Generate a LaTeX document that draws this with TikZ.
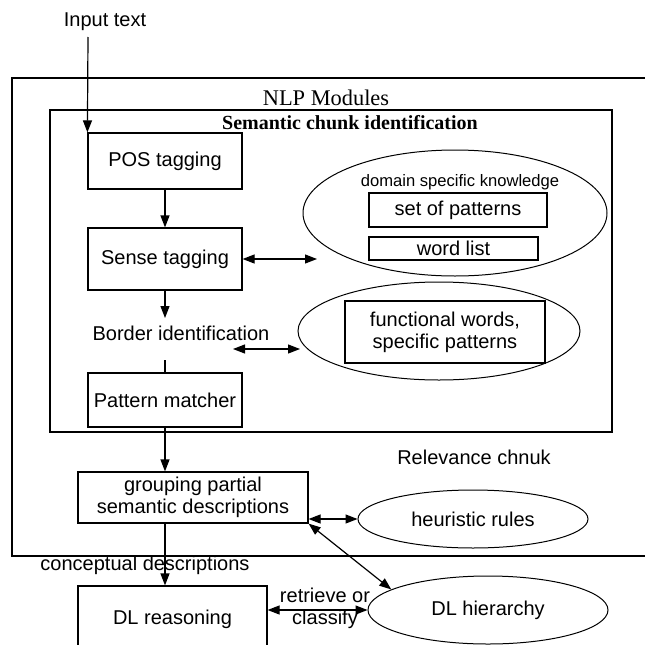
\documentclass[tikz,border=0pt]{standalone}
\usepackage{fontspec}
\setmainfont{Liberation Sans}
\newfontfamily\timesfont{Liberation Serif}
\usetikzlibrary{arrows.meta,shapes.geometric}
\begin{document}
\begin{tikzpicture}[x=1pt,y=-1pt,line width=1.2pt,
  >={Triangle[length=12pt,width=9pt]},
  every node/.style={font=\fontsize{20}{22}\selectfont, align=center},
  box/.style={draw, rectangle, inner sep=0pt},
  blob/.style={draw, ellipse, inner sep=0pt, line width=1pt}]
\useasboundingbox (0,0) rectangle (645,645);
% frames
\draw (660,78) -- (12,78) -- (12,556) -- (660,556);
\node (nlp) at (326,98) [font=\timesfont\fontsize{22.4}{24}\selectfont]{NLP Modules};
\draw (50,110) rectangle (612,432);
\node (chunk) at (350,123) [font=\timesfont\bfseries\fontsize{20}{22}\selectfont]{Semantic chunk identification};
% left column
\node (input) at (105,22) {Input text};
\coordinate (inarrow) at (88,37);
\node (pos) at (165,161) [box, minimum width=154, minimum height=56]{POS tagging};
\node (sense) at (165,259) [box, minimum width=154, minimum height=62]{Sense tagging};
\node (border) at (181,333) {Border identification};
\node (matcher) at (165,400) [box, minimum width=154, minimum height=54]{Pattern matcher};
\node (grouping) at (193,497.5) [box, minimum width=230, minimum height=51]{grouping partial\\semantic descriptions};
\node (concept) at (145,565) {conceptual descriptions};
\node (reasoning) at (172.5,619) [box, minimum width=189, minimum height=66]{DL reasoning};
% right column
\node (domain) at (455,213) [blob, minimum width=304, minimum height=126]{};
\node (knowledge) at (460,182) [font=\fontsize{16.6}{18}\selectfont]{domain specific knowledge};
\node (patterns) at (458,210) [box, minimum width=178, minimum height=34]{set of patterns};
\node (words) at (453.5,248.5) [box, minimum width=169, minimum height=23]{word list};
\node (functional) at (439,331) [blob, minimum width=282, minimum height=98]{};
\node (funcbox) at (445,332) [box, minimum width=200, minimum height=62]{functional words,\\specific patterns};
\node (relevance) at (474,457) {Relevance chnuk};
\node (heuristic) at (473,519) [blob, minimum width=230, minimum height=58]{heuristic rules};
\node (hierarchy) at (488,610) [blob, minimum width=240, minimum height=68]{DL hierarchy};
\node (retrieve) at (325,608) {retrieve or\\classify};
% connectors
\coordinate (senseR) at (317,259);
\coordinate (borderS) at (165,318);
\coordinate (borderN) at (165,360);
\coordinate (borderL) at (233,349);
\coordinate (borderR) at (300,349);
\draw[->] (inarrow) -- (pos.north west);
\draw[->] (pos) -- (sense);
\draw[<->] (sense) -- (senseR);
\draw[->] (sense) -- (borderS);
\draw (borderN) -- (matcher);
\draw[<->] (borderL) -- (borderR);
\draw[->] (matcher) -- (matcher.south |- grouping.north);
\draw[->] (matcher.south |- grouping.south) -- (matcher.south |- reasoning.north);
\draw[<->] (grouping.south east |- heuristic.west) -- (heuristic.west);
\draw[<->] (grouping.south east) -- (hierarchy.168);
\draw[<->] (reasoning.east |- hierarchy.west) -- (hierarchy.west);
\end{tikzpicture}
\end{document}
